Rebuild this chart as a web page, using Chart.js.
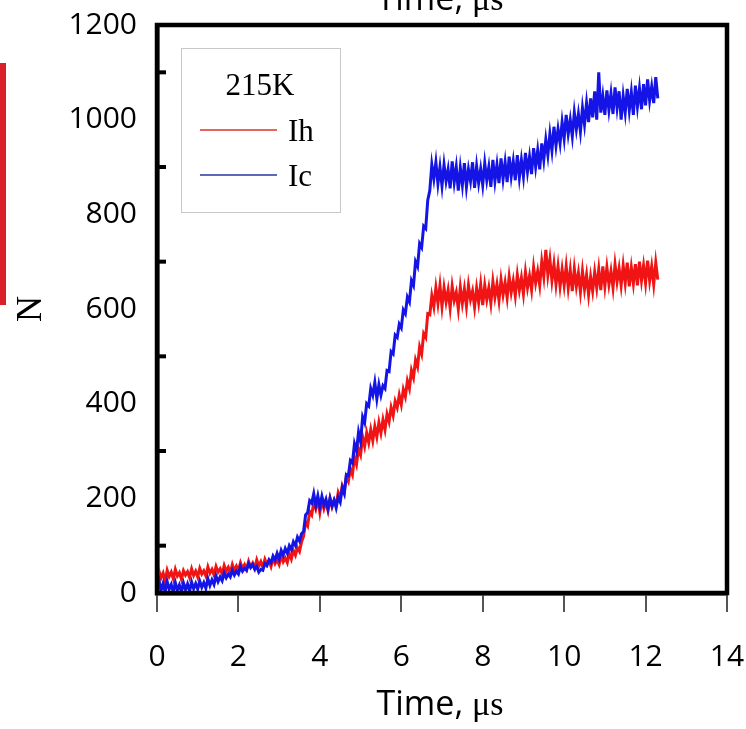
<!DOCTYPE html>
<html>
<head>
<meta charset="utf-8">
<script src="https://cdn.jsdelivr.net/npm/chart.js@4.4.1/dist/chart.umd.min.js"></script>
<style>
  body { margin: 0; background: #fff; }
  #wrap { width: 746px; height: 729px; position: relative; }
</style>
</head>
<body>
<div id="wrap"><canvas id="nChart"></canvas></div>
<script>
// time axis, microseconds (sampled every 0.05)
var time = [
  0, 0.05, 0.1, 0.15, 0.2, 0.25, 0.3, 0.35, 0.4, 0.45, 0.5, 0.55, 0.6, 0.65, 0.7, 0.75, 0.8, 0.85, 0.9, 0.95,
  1, 1.05, 1.1, 1.15, 1.2, 1.25, 1.3, 1.35, 1.4, 1.45, 1.5, 1.55, 1.6, 1.65, 1.7, 1.75, 1.8, 1.85, 1.9, 1.95,
  2, 2.05, 2.1, 2.15, 2.2, 2.25, 2.3, 2.35, 2.4, 2.45, 2.5, 2.55, 2.6, 2.65, 2.7, 2.75, 2.8, 2.85, 2.9, 2.95,
  3, 3.05, 3.1, 3.15, 3.2, 3.25, 3.3, 3.35, 3.4, 3.45, 3.5, 3.55, 3.6, 3.65, 3.7, 3.75, 3.8, 3.85, 3.9, 3.95,
  4, 4.05, 4.1, 4.15, 4.2, 4.25, 4.3, 4.35, 4.4, 4.45, 4.5, 4.55, 4.6, 4.65, 4.7, 4.75, 4.8, 4.85, 4.9, 4.95,
  5, 5.05, 5.1, 5.15, 5.2, 5.25, 5.3, 5.35, 5.4, 5.45, 5.5, 5.55, 5.6, 5.65, 5.7, 5.75, 5.8, 5.85, 5.9, 5.95,
  6, 6.05, 6.1, 6.15, 6.2, 6.25, 6.3, 6.35, 6.4, 6.45, 6.5, 6.55, 6.6, 6.65, 6.7, 6.75, 6.8, 6.85, 6.9, 6.95,
  7, 7.05, 7.1, 7.15, 7.2, 7.25, 7.3, 7.35, 7.4, 7.45, 7.5, 7.55, 7.6, 7.65, 7.7, 7.75, 7.8, 7.85, 7.9, 7.95,
  8, 8.05, 8.1, 8.15, 8.2, 8.25, 8.3, 8.35, 8.4, 8.45, 8.5, 8.55, 8.6, 8.65, 8.7, 8.75, 8.8, 8.85, 8.9, 8.95,
  9, 9.05, 9.1, 9.15, 9.2, 9.25, 9.3, 9.35, 9.4, 9.45, 9.5, 9.55, 9.6, 9.65, 9.7, 9.75, 9.8, 9.85, 9.9, 9.95,
  10, 10.05, 10.1, 10.15, 10.2, 10.25, 10.3, 10.35, 10.4, 10.45, 10.5, 10.55, 10.6, 10.65, 10.7, 10.75, 10.8, 10.85, 10.9, 10.95,
  11, 11.05, 11.1, 11.15, 11.2, 11.25, 11.3, 11.35, 11.4, 11.45, 11.5, 11.55, 11.6, 11.65, 11.7, 11.75, 11.8, 11.85, 11.9, 11.95,
  12, 12.05, 12.1, 12.15, 12.2, 12.25, 12.3
];

// Ih count (red)
var ih = [
  28, 46, 32, 42, 25, 48, 35, 44, 30, 50, 36, 43, 29, 47, 38, 45, 33, 51, 37, 46,
  34, 52, 40, 47, 36, 55, 42, 50, 38, 56, 44, 51, 40, 58, 46, 54, 43, 60, 47, 57,
  48, 64, 52, 60, 50, 67, 55, 63, 52, 70, 57, 66, 54, 71, 60, 68, 56, 74, 62, 70,
  60, 78, 66, 74, 64, 84, 72, 90, 80, 96, 88, 108, 120, 150, 142, 172, 165, 192, 178, 198,
  170, 196, 178, 192, 174, 200, 182, 196, 186, 212, 200, 226, 214, 246, 236, 262, 250, 288, 272, 305,
  292, 330, 310, 338, 318, 345, 322, 352, 330, 360, 338, 366, 345, 378, 362, 392, 375, 405, 392, 418,
  398, 430, 415, 448, 432, 470, 455, 492, 478, 520, 505, 548, 540, 590, 588, 628, 605, 645, 612, 650,
  605, 645, 615, 640, 602, 648, 618, 635, 600, 646, 612, 642, 606, 650, 620, 638, 604, 644, 614, 652,
  608, 650, 620, 645, 612, 658, 625, 652, 618, 662, 630, 656, 624, 668, 635, 660, 628, 672, 640, 666,
  632, 678, 645, 670, 640, 688, 655, 680, 650, 700, 668, 725, 672, 705, 660, 695, 652, 690, 648, 684,
  650, 690, 645, 682, 638, 685, 648, 676, 636, 680, 642, 672, 630, 668, 638, 678, 645, 684, 640, 690,
  648, 688, 652, 680, 645, 694, 658, 686, 650, 692, 655, 698, 648, 688, 654, 695, 650, 700, 660, 692,
  655, 702, 660, 690, 652, 698, 662
];

// Ic count (blue)
var ic = [
  10, 26, 5, 20, 3, 24, 8, 18, 2, 22, 6, 17, 3, 21, 7, 19, 4, 23, 9, 20,
  8, 25, 12, 22, 10, 30, 16, 28, 18, 36, 24, 34, 26, 42, 32, 40, 34, 48, 38, 46,
  40, 56, 46, 52, 48, 62, 54, 60, 50, 56, 44, 50, 48, 62, 58, 70, 64, 78, 70, 84,
  72, 90, 80, 94, 84, 100, 92, 108, 100, 118, 110, 125, 130, 165, 170, 195, 190, 210, 185, 205,
  182, 204, 186, 198, 178, 200, 184, 196, 180, 202, 192, 222, 210, 250, 248, 280, 275, 315, 300, 340,
  320, 372, 360, 400, 395, 432, 418, 445, 410, 440, 418, 438, 432, 470, 468, 510, 505, 545, 540, 568,
  560, 598, 590, 625, 615, 660, 650, 700, 690, 738, 730, 775, 770, 830, 850, 905, 875, 910, 865, 900,
  860, 905, 870, 895, 855, 912, 868, 900, 850, 898, 862, 908, 858, 895, 870, 910, 856, 902, 866, 896,
  862, 908, 872, 900, 858, 915, 870, 905, 866, 918, 875, 910, 868, 922, 880, 912, 872, 925, 878, 915,
  880, 930, 890, 922, 885, 940, 900, 935, 895, 950, 915, 958, 925, 970, 935, 985, 945, 980, 950, 995,
  960, 1010, 970, 1000, 965, 1015, 980, 1012, 975, 1025, 990, 1035, 995, 1045, 1005, 1060, 1000, 1100, 1015, 1050,
  1010, 1062, 1020, 1055, 1012, 1068, 1025, 1060, 1000, 1050, 1015, 1065, 1020, 1058, 1010, 1072, 1028, 1066, 1022, 1075,
  1030, 1085, 1040, 1070, 1035, 1090, 1045
];

var xTicks = [0, 2, 4, 6, 8, 10, 12, 14];
var yTicks = [0, 200, 400, 600, 800, 1000, 1200];
var yMinor = [100, 300, 500, 700, 900, 1100];
var legendTitle = "215K";

function pts(ys) {
  return time.map(function(t, i){ return { x: t, y: ys[i] }; });
}

// draws "Time, " sans + "μs" serif centred at cx
function drawTimeTitle(ctx, cx, baseline) {
  ctx.save();
  ctx.fillStyle = "#000";
  ctx.textBaseline = "alphabetic";
  ctx.textAlign = "left";
  var f1 = "34px 'Open Sans'", f2 = "34px 'Liberation Serif'";
  ctx.font = f1; var w1 = ctx.measureText("Time, ").width;
  ctx.font = f2; var w2 = ctx.measureText("μs").width;
  var x0 = cx - (w1 + w2) / 2;
  ctx.font = f1; ctx.fillText("Time, ", x0, baseline);
  ctx.font = f2; ctx.fillText("μs", x0 + w1, baseline);
  ctx.restore();
}

var decor = {
  id: "decor",
  beforeDraw: function(chart) {
    var ctx = chart.ctx;
    ctx.save();
    // red strip from neighbouring figure
    ctx.fillStyle = "#d8212c";
    ctx.fillRect(0, 63, 6, 242);
    ctx.restore();
    // cut-off title of the panel above
    drawTimeTitle(ctx, (chart.chartArea.left + chart.chartArea.right) / 2 - 2, 10);
  },
  afterDraw: function(chart) {
    var ctx = chart.ctx, a = chart.chartArea, ys = chart.scales.y;
    ctx.save();
    ctx.strokeStyle = "#000";
    ctx.lineWidth = 4.5;
    ctx.strokeRect(a.left, a.top, a.right - a.left, a.bottom - a.top);
    // inner minor ticks on y
    ctx.lineWidth = 4;
    yMinor.forEach(function(v){
      var py = ys.getPixelForValue(v);
      ctx.beginPath(); ctx.moveTo(a.left, py); ctx.lineTo(a.left + 9, py); ctx.stroke();
    });
    // legend box
    ctx.fillStyle = "#fff";
    ctx.fillRect(181, 48, 159, 164);
    ctx.strokeStyle = "#c8c8c8";
    ctx.lineWidth = 1;
    ctx.strokeRect(181.5, 48.5, 159, 164);
    ctx.fillStyle = "#000";
    ctx.font = "31px 'Liberation Serif'";
    ctx.textAlign = "center";
    ctx.fillText(legendTitle, 260, 95);
    var rows = [130, 175];
    var legCol = ["#e0302a", "#2a36a0"];
    chart.data.datasets.forEach(function(ds, i){
      ctx.strokeStyle = legCol[i];
      ctx.lineWidth = 1.5;
      ctx.beginPath(); ctx.moveTo(200, rows[i]); ctx.lineTo(277, rows[i]); ctx.stroke();
      ctx.fillStyle = "#000";
      ctx.textAlign = "left";
      ctx.fillText(ds.label, 288, rows[i] + 11);
    });
    ctx.restore();
    drawTimeTitle(ctx, (a.left + a.right) / 2 - 2, 715);
  }
};

new Chart(document.getElementById("nChart"), {
  type: "line",
  data: {
    datasets: [
      { label: "Ih", data: pts(ih), borderColor: "#f01414", borderWidth: 3, pointRadius: 0, tension: 0, order: 1 },
      { label: "Ic", data: pts(ic), borderColor: "#1414e6", borderWidth: 3, pointRadius: 0, tension: 0, order: 0 }
    ]
  },
  options: {
    responsive: true,
    maintainAspectRatio: false,
    animation: false,
    layout: { padding: { left: 0, top: 25, right: 19, bottom: 0 } },
    plugins: { legend: { display: false }, tooltip: { enabled: false } },
    scales: {
      x: {
        type: "linear", min: 0, max: 14,
        afterFit: function(s){ s.height = 136; s.paddingLeft = 0; s.paddingRight = 0; },
        afterBuildTicks: function(s){ s.ticks = xTicks.map(function(v){ return { value: v }; }); },
        ticks: { color: "#000", font: { family: "'Open Sans'", size: 30 }, padding: 27, maxRotation: 0,
                 callback: function(v){ return String(v); } },
        grid: { display: true, drawOnChartArea: false, drawTicks: true, tickLength: 19, color: "#555", lineWidth: 2 },
        border: { display: true, color: "#000", width: 4.5 }
      },
      y: {
        min: 0, max: 1200,
        afterFit: function(s){ s.width = 157; s.paddingTop = 0; s.paddingBottom = 0; },
        afterBuildTicks: function(s){ s.ticks = yTicks.map(function(v){ return { value: v }; }); },
        ticks: { color: "#000", font: { family: "'Open Sans'", size: 30 }, padding: 20,
                 callback: function(v){ return String(v); } },
        grid: { display: false, drawTicks: false },
        border: { display: true, color: "#000", width: 4.5 },
        title: { display: true, text: "N", color: "#000", font: { family: "'Liberation Serif'", size: 36 }, padding: { top: 10, bottom: 0 } }
      }
    }
  },
  plugins: [decor]
});
</script>
</body>
</html>
